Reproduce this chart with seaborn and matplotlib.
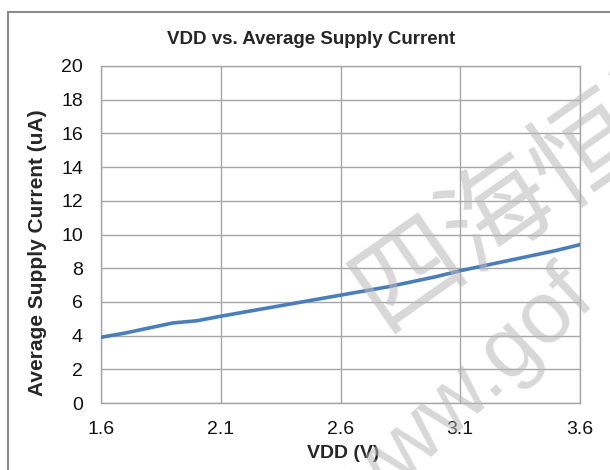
import matplotlib
matplotlib.use("Agg")
import matplotlib.pyplot as plt
import seaborn as sns
import pandas as pd
from matplotlib.patches import Rectangle

vdd = [1.6, 1.7, 1.8, 1.9, 2.0, 2.1, 2.2, 2.3, 2.4, 2.5, 2.6,
       2.7, 2.8, 2.9, 3.0, 3.1, 3.2, 3.3, 3.4, 3.5, 3.6]
current = [3.9, 4.15, 4.45, 4.75, 4.88, 5.15, 5.4, 5.65, 5.9, 6.15, 6.4,
           6.65, 6.9, 7.2, 7.5, 7.85, 8.15, 8.45, 8.75, 9.05, 9.4]
x_ticks = [1.6, 2.1, 2.6, 3.1, 3.6]
y_ticks = list(range(0, 21, 2))
title = "VDD vs. Average Supply Current"
x_label = "VDD (V)"
y_label = "Average Supply Current (uA)"
wm_cn = "四海恒达"
wm_en = "www.gof"

sns.set_theme(style="white")
plt.rcParams['font.family'] = ['Liberation Sans', 'DejaVu Sans']

df = pd.DataFrame({"VDD": vdd, "I": current})

W, H = 610, 470
fig = plt.figure(figsize=(6.1, 4.7), dpi=100)
ax = fig.add_axes([101/W, 1-403/H, 479/W, 337/H])

def fx(px):
    return px / W

def fy(py):
    return 1 - py / H

# figure frame
fig.patches.append(Rectangle((8/W, -0.1), 1.2, 1-12/H + 0.1, transform=fig.transFigure,
                             fill=False, edgecolor="#8c8c8c", linewidth=1.5, zorder=0))

sns.lineplot(data=df, x="VDD", y="I", ax=ax, color="#4a7ebb", linewidth=2.6, zorder=3)

ax.set_xlim(1.6, 3.6)
ax.set_ylim(0, 20)
ax.set_xticks(x_ticks)
ax.set_xticklabels([f"{v:.1f}" for v in x_ticks])
ax.set_yticks(y_ticks)
ax.grid(True, color="#a6a6a6", linewidth=1.0)
for s in ax.spines.values():
    s.set_color("#a6a6a6")
    s.set_linewidth(1.0)
ax.tick_params(axis="both", length=0, labelsize=14, colors="#111111")
ax.tick_params(axis="x", pad=13)
ax.tick_params(axis="y", pad=13)
ax.set_xlabel(x_label, fontsize=14, fontweight="bold")
ax.set_ylabel(y_label, fontsize=15, fontweight="bold")
ax.xaxis.set_label_coords((343-101)/479, (403-453)/337)
ax.yaxis.set_label_coords((38-101)/479, (403-253)/337)
ax.xaxis.label.set_va("center")
ax.yaxis.label.set_va("center")
fig.text(fx(311), fy(40), title, ha="center", va="center", fontsize=13.5, fontweight="bold")

# watermark
fig.text(fx(543), fy(181), wm_cn, ha="center", va="center", fontsize=78, rotation=35,
         rotation_mode="anchor", color="#b8b8b8", alpha=0.55,
         family=['Noto Sans CJK SC', 'DejaVu Sans'], zorder=10)
fig.text(fx(356), fy(528), wm_en, ha="left", va="baseline", fontsize=63, rotation=43,
         rotation_mode="anchor", color="#b8b8b8", alpha=0.55,
         family=['Liberation Sans', 'DejaVu Sans'], zorder=10)

fig.savefig("out.png", dpi=100)
